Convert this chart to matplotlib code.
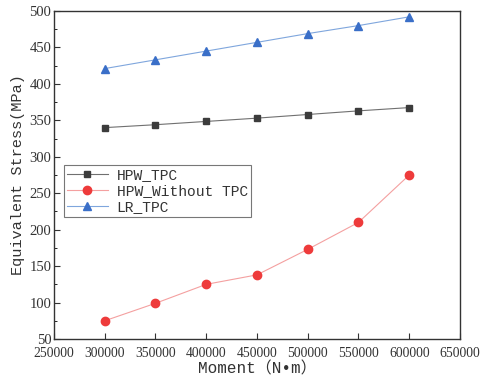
import matplotlib.pyplot as plt
from matplotlib.ticker import MultipleLocator

moment = [300000, 350000, 400000, 450000, 500000, 550000, 600000]
hpw_tpc = [340, 344, 348.5, 353, 358, 363, 367.5]
hpw_without = [75, 99, 125, 138, 173, 210, 275]
lr_tpc = [421, 433, 445, 457, 469, 480, 492]

plt.rcParams['font.family'] = ['Liberation Serif', 'Noto Sans CJK SC']
mono = ['Liberation Mono', 'Noto Sans CJK SC']

fig = plt.figure(figsize=(4.81, 3.85), dpi=100)
ax = fig.add_axes([54/481, 1-339/385, 406/481, 328/385])

ax.plot(moment, hpw_tpc, color='#707070', lw=0.8, marker='s', ms=5,
        mfc='#3c3c3c', mec='#3c3c3c', label='HPW_TPC')
ax.plot(moment, hpw_without, color='#f4a0a0', lw=0.8, marker='o', ms=6,
        mfc='#ee3b3b', mec='#ee3b3b', label='HPW_Without TPC')
ax.plot(moment, lr_tpc, color='#7fa6dd', lw=0.8, marker='^', ms=6,
        mfc='#3a6fc8', mec='#3a6fc8', label='LR_TPC')

ax.set_xlim(250000, 650000)
ax.set_ylim(50, 500)
ax.xaxis.set_major_locator(MultipleLocator(50000))
ax.yaxis.set_major_locator(MultipleLocator(50))
ax.yaxis.set_minor_locator(MultipleLocator(25))
ax.tick_params(direction='in', labelsize=10.5, colors='#333333', length=4)
ax.tick_params(axis='x', pad=6, labelsize=9.8)
ax.tick_params(axis='y', pad=2)
ax.tick_params(which='minor', direction='in', length=2.5)
for s in ax.spines.values():
    s.set_color('#333333')
    s.set_linewidth(1.0)

ax.set_xlabel('Moment（N•m）', family=mono, fontsize=11.5, color='#333333', labelpad=1)
ax.set_ylabel('Equivalent Stress(MPa)', family=mono, fontsize=11, color='#333333', labelpad=3)

leg = ax.legend(loc='upper left', bbox_to_anchor=(0.025, 0.53), prop={'family': mono, 'size': 10.5},
                fancybox=False, framealpha=1, edgecolor='#777777', borderpad=0.2,
                labelspacing=0.15, handlelength=2.8, handletextpad=0.6, borderaxespad=0)
leg.get_frame().set_linewidth(0.8)
for t in leg.get_texts():
    t.set_color('#333333')

fig.savefig('out.png', dpi=100)
